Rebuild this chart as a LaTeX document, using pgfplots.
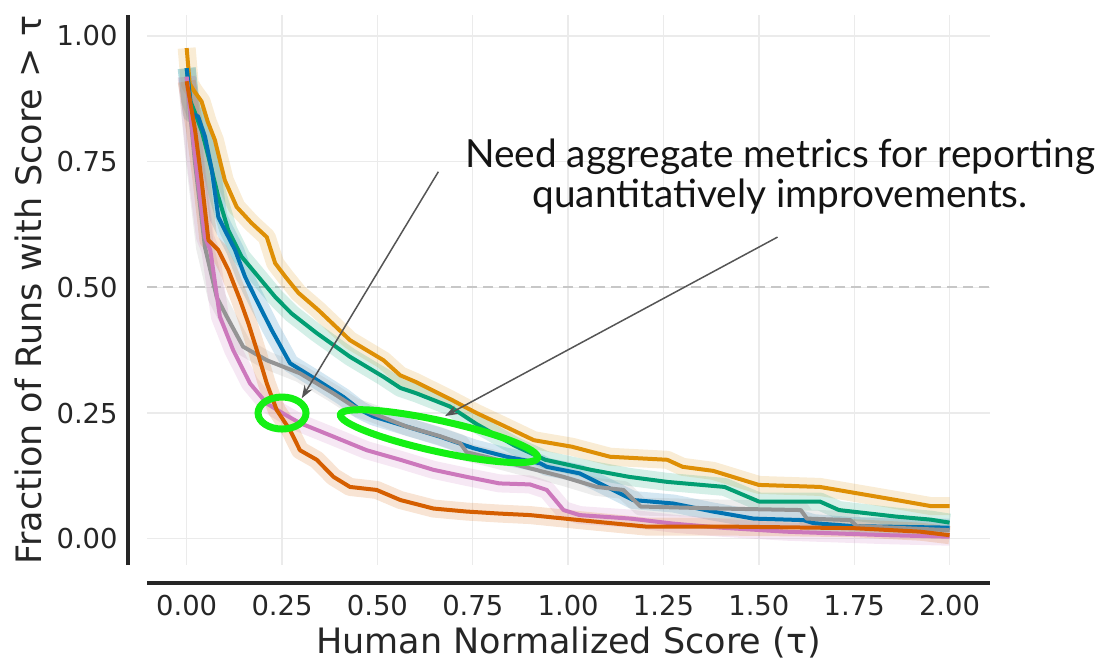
\documentclass[border=0pt]{standalone}
\usepackage{fontspec}
\setmainfont{DejaVu Sans}
\newfontfamily\annfont{Lato}
\usepackage{pgfplots}
\usepackage{pgfplotstable}
\pgfplotsset{compat=1.18}
\usetikzlibrary{arrows.meta,shapes.geometric}

\definecolor{cOrange}{HTML}{DE8F05}
\definecolor{cGreen}{HTML}{029E73}
\definecolor{cBlue}{HTML}{0173B2}
\definecolor{cGrey}{HTML}{949494}
\definecolor{cPink}{HTML}{CC78BC}
\definecolor{cVerm}{HTML}{D55E00}
\definecolor{gridc}{RGB}{235,235,235}
\definecolor{labc}{RGB}{38,38,38}
\definecolor{arrowc}{RGB}{85,85,85}
\definecolor{limeg}{RGB}{20,240,20}

% x = tau, y = fraction of runs with score > tau
\pgfplotstableread{
x y
0.000 0.976
0.008 0.905
0.020 0.890
0.039 0.870
0.055 0.830
0.074 0.793
0.100 0.713
0.131 0.660
0.170 0.628
0.210 0.600
0.232 0.548
0.260 0.520
0.293 0.489
0.345 0.455
0.428 0.395
0.516 0.355
0.560 0.325
0.600 0.312
0.690 0.278
0.760 0.250
0.830 0.225
0.910 0.196
1.010 0.183
1.110 0.163
1.260 0.157
1.300 0.143
1.380 0.135
1.500 0.107
1.660 0.103
1.760 0.090
1.860 0.077
1.950 0.065
2.000 0.065
}\tabO

\pgfplotstableread{
x y
0.000 0.936
0.010 0.870
0.022 0.847
0.040 0.810
0.057 0.760
0.083 0.680
0.109 0.614
0.144 0.561
0.188 0.521
0.232 0.481
0.275 0.448
0.319 0.422
0.341 0.409
0.428 0.362
0.516 0.322
0.560 0.300
0.603 0.289
0.690 0.263
0.760 0.228
0.860 0.185
0.940 0.157
1.060 0.137
1.160 0.123
1.260 0.113
1.410 0.103
1.500 0.074
1.660 0.074
1.710 0.057
1.860 0.044
1.950 0.038
2.000 0.032
}\tabG

\pgfplotstableread{
x y
0.000 0.936
0.013 0.846
0.030 0.840
0.048 0.800
0.066 0.733
0.083 0.640
0.100 0.614
0.127 0.574
0.153 0.521
0.179 0.481
0.205 0.442
0.223 0.415
0.271 0.349
0.341 0.316
0.411 0.282
0.455 0.256
0.490 0.243
0.577 0.223
0.664 0.203
0.752 0.180
0.839 0.163
0.927 0.150
0.944 0.143
1.030 0.130
1.136 0.090
1.170 0.077
1.276 0.070
1.380 0.054
1.486 0.040
1.617 0.037
1.643 0.031
1.748 0.025
2.000 0.022
}\tabB

\pgfplotstableread{
x y
0.000 0.919
0.022 0.747
0.048 0.580
0.079 0.480
0.105 0.442
0.148 0.382
0.210 0.355
0.297 0.329
0.385 0.289
0.440 0.262
0.489 0.249
0.577 0.223
0.664 0.204
0.717 0.190
0.734 0.172
0.800 0.160
0.900 0.140
0.988 0.123
1.075 0.103
1.145 0.097
1.190 0.064
1.400 0.060
1.610 0.057
1.626 0.040
1.740 0.037
1.757 0.025
2.000 0.017
}\tabK

\pgfplotstableread{
x y
0.000 0.919
0.022 0.760
0.048 0.600
0.062 0.574
0.087 0.442
0.122 0.375
0.166 0.309
0.210 0.269
0.253 0.249
0.297 0.230
0.385 0.203
0.472 0.176
0.560 0.157
0.647 0.137
0.734 0.123
0.820 0.110
0.900 0.108
0.944 0.097
0.988 0.057
1.030 0.047
1.163 0.040
1.276 0.030
1.400 0.022
1.570 0.014
1.836 0.007
2.000 0.004
}\tabP

\pgfplotstableread{
x y
0.000 0.910
0.022 0.813
0.039 0.714
0.057 0.594
0.083 0.574
0.109 0.535
0.140 0.475
0.162 0.428
0.184 0.375
0.210 0.309
0.236 0.256
0.271 0.216
0.297 0.176
0.341 0.157
0.385 0.123
0.428 0.103
0.498 0.097
0.560 0.077
0.647 0.060
0.734 0.054
0.820 0.050
0.900 0.047
1.030 0.037
1.206 0.024
1.425 0.024
1.748 0.021
1.923 0.014
2.000 0.007
}\tabV

% translucent confidence band around one run
\newcommand{\band}[2]{%
  \addplot[#2, draw opacity=0.17, line width=9bp, line join=round, line cap=butt, forget plot] table[x=x, y=y] {#1};
}
% mean curve of one run
\newcommand{\curve}[2]{%
  \addplot[#2, line width=2bp, line join=round, forget plot] table[x=x, y=y] {#1};
}

\begin{document}
\begin{tikzpicture}
\path[use as bounding box] (0,0) rectangle (550bp,329.5bp);
\begin{axis}[
  at={(73.5bp,47bp)}, anchor=south west,
  width=421.5bp, height=275bp, scale only axis,
  xmin=-0.104, xmax=2.106, ymin=-0.0523, ymax=1.0418,
  clip=false,
  axis line style={draw=none},
  major tick length=0pt,
  xtick={0,0.25,0.5,0.75,1,1.25,1.5,1.75,2},
  ytick={0,0.25,0.5,0.75,1},
  grid=major,
  grid style={color=gridc, line width=0.7bp},
  tick label style={font=\fontsize{13.7bp}{16bp}\selectfont, text=labc, inner sep=0pt},
  xticklabel style={anchor=north, yshift=-15bp},
  yticklabel style={anchor=east, xshift=-14.5bp},
  /pgf/number format/fixed,
  /pgf/number format/fixed zerofill,
  /pgf/number format/precision=2,
  /pgf/number format/assume math mode=true,
]
% reference level
\addplot[color=black!22, line width=0.9bp, dash pattern=on 5bp off 3bp, forget plot] coordinates {(-0.104,0.5) (2.106,0.5)};

\band{\tabO}{cOrange}
\band{\tabG}{cGreen}
\band{\tabB}{cBlue}
\band{\tabK}{cGrey}
\band{\tabP}{cPink}
\band{\tabV}{cVerm}

\curve{\tabO}{cOrange}
\curve{\tabG}{cGreen}
\curve{\tabB}{cBlue}
\curve{\tabK}{cGrey}
\curve{\tabP}{cPink}
\curve{\tabV}{cVerm}

% offset spines
\draw[labc, line width=2bp] (axis cs:-0.1539,-0.0523) -- (axis cs:-0.1539,1.0418);
\draw[labc, line width=2bp] (axis cs:-0.104,-0.0881) -- (axis cs:2.106,-0.0881);

% axis titles
\node[rotate=90, font=\fontsize{17.5bp}{20bp}\selectfont, text=labc, inner sep=0pt] at (axis cs:-0.4135,0.4947) {Fraction of Runs with Score > τ};
\node[font=\fontsize{17.5bp}{20bp}\selectfont, text=labc, inner sep=0pt] at (axis cs:1.0012,-0.2055) {Human Normalized Score (τ)};

% call-out
\node[anchor=base, font=\annfont\fontsize{19.4bp}{23bp}\selectfont, text=black!92] at (axis cs:1.556,0.7394) {Need aggregate metrics for reporting};
\node[anchor=base, font=\annfont\fontsize{19.4bp}{23bp}\selectfont, text=black!92] at (axis cs:1.556,0.6598) {quantitatively improvements.};
\draw[arrowc, line width=0.75bp, -{Stealth[length=6.5bp,width=4.5bp]}] (axis cs:0.6598,0.730) -- (axis cs:0.3016,0.2793);
\draw[arrowc, line width=0.75bp, -{Stealth[length=6.5bp,width=4.5bp]}] (axis cs:1.549,0.600) -- (axis cs:0.6773,0.244);
\node[ellipse, draw=limeg, line width=3.5bp, minimum width=24bp, minimum height=16bp, inner sep=0pt] at (axis cs:0.25,0.25) {};
\node[ellipse, draw=limeg, line width=3.5bp, rotate=-12.4, minimum width=101bp, minimum height=15.5bp, inner sep=0pt] at (axis cs:0.6616,0.204) {};
\end{axis}
\end{tikzpicture}
\end{document}
